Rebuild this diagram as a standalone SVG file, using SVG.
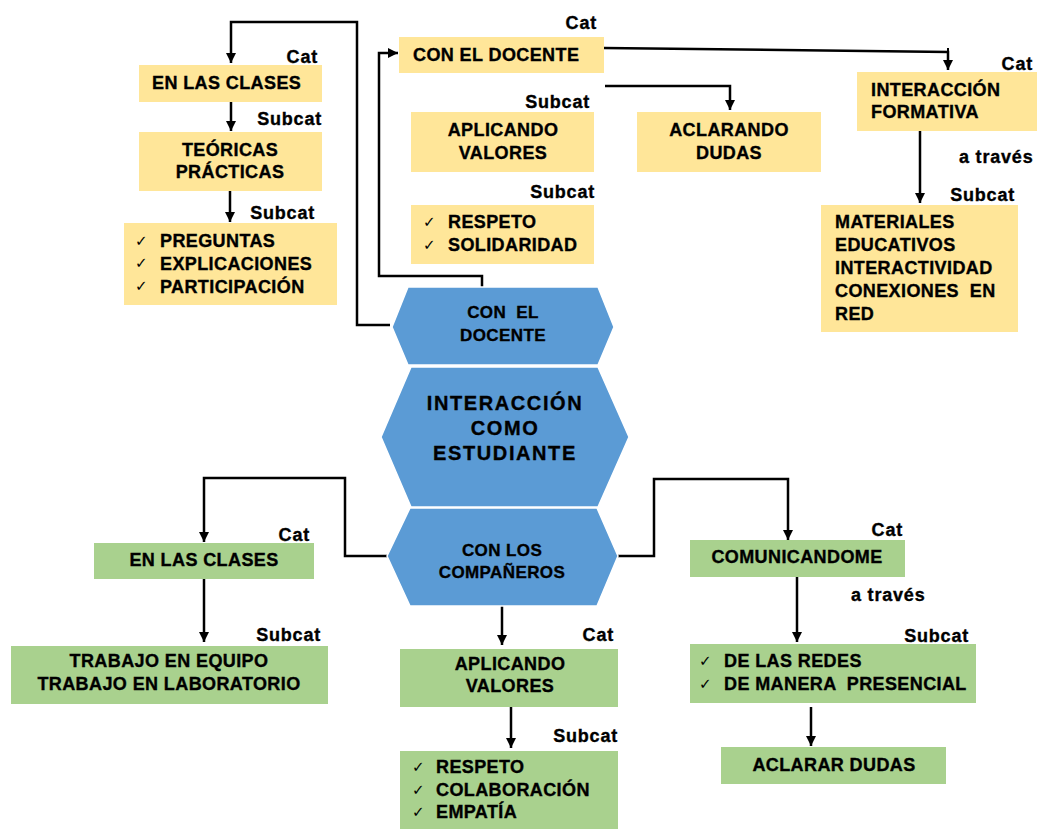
<svg xmlns="http://www.w3.org/2000/svg" width="1037" height="829" viewBox="0 0 1037 829">
<defs>
<marker id="ah" viewBox="0 0 10 10" refX="10" refY="5" markerWidth="10" markerHeight="10" markerUnits="userSpaceOnUse" orient="auto">
<path d="M0,0 L10,5 L0,10 Z" fill="#000"/>
</marker>
<style>
.y{fill:#FFE699}
.g{fill:#A9D18E}
.h{fill:#5B9BD5;stroke:#fff;stroke-width:1.5}
text{font-family:"Liberation Sans",Arial,sans-serif;font-weight:bold;fill:#000;stroke:#000;stroke-width:0.35;white-space:pre}
.t{font-size:18px;letter-spacing:0.4px}
.c{text-anchor:middle}
.r{text-anchor:end}
.l{font-size:18px;letter-spacing:0.8px}
.big{font-size:20px;letter-spacing:1.6px;text-anchor:middle}
.ck{font-family:"DejaVu Sans",sans-serif;font-weight:normal;font-size:15px;stroke-width:0}
.cn{fill:none;stroke:#000;stroke-width:2.5}
</style>
</defs>
<rect width="1037" height="829" fill="#fff"/>

<g id="connectors">
<polyline class="cn" points="390,325 357,325 357,22 231,22 231,63" marker-end="url(#ah)"/>
<polyline class="cn" points="231,102 231,131" marker-end="url(#ah)"/>
<polyline class="cn" points="230,191 230,222" marker-end="url(#ah)"/>
<polyline class="cn" points="482,287 482,276 379,276 379,53 398,53" marker-end="url(#ah)"/>
<polyline class="cn" points="604,48 948,52 948,70" marker-end="url(#ah)"/>
<line x1="948" y1="48" x2="948" y2="56" stroke="#000" stroke-width="2"/>
<polyline class="cn" points="605,86 730,86 730,110" marker-end="url(#ah)"/>
<polyline class="cn" points="920,131 920,203" marker-end="url(#ah)"/>
<polyline class="cn" points="387,556 345,556 345,478 204,478 204,542" marker-end="url(#ah)"/>
<polyline class="cn" points="204,579 204,642" marker-end="url(#ah)"/>
<polyline class="cn" points="502,606 502,645" marker-end="url(#ah)"/>
<polyline class="cn" points="511,707 511,748" marker-end="url(#ah)"/>
<polyline class="cn" points="617,556 654,556 654,479 788,479 788,540" marker-end="url(#ah)"/>
<polyline class="cn" points="797,577 797,642" marker-end="url(#ah)"/>
<polyline class="cn" points="811,707 811,746" marker-end="url(#ah)"/>
</g>

<g id="hex-docente">
<polygon class="h" points="408,287 598,287 614,327 598,365 408,365 392,327"/>
<text class="t c" x="503" y="318" style="font-size:17px">CON  EL</text>
<text class="t c" x="503" y="341" style="font-size:17px">DOCENTE</text>
</g>
<g id="hex-central">
<polygon class="h" points="411,367 598,367 629,437 598,507 411,507 381,437"/>
<text class="big" x="505" y="410">INTERACCIÓN</text>
<text class="big" x="505" y="435">COMO</text>
<text class="big" x="505" y="460">ESTUDIANTE</text>
</g>
<g id="hex-companeros">
<polygon class="h" points="410,508 597,508 618,556 597,606 410,606 387,556"/>
<text class="t c" x="502" y="556" style="font-size:17px">CON LOS</text>
<text class="t c" x="502" y="578" style="font-size:17px">COMPAÑEROS</text>
</g>

<g id="y-clases">
<rect class="y" x="139" y="65" width="183" height="37"/>
<text class="t" x="152" y="89">EN LAS CLASES</text>
<text class="l r" x="318" y="63">Cat</text>
</g>
<g id="y-teoricas">
<rect class="y" x="139" y="132" width="183" height="59"/>
<text class="t c" x="230" y="156">TEÓRICAS</text>
<text class="t c" x="230" y="178">PRÁCTICAS</text>
<text class="l r" x="322" y="125">Subcat</text>
</g>
<g id="y-preguntas">
<rect class="y" x="124" y="223" width="213" height="82"/>
<text class="ck" x="135" y="246">✓</text>
<text class="ck" x="135" y="268">✓</text>
<text class="ck" x="135" y="291">✓</text>
<text class="t" x="160" y="247">PREGUNTAS</text>
<text class="t" x="160" y="270">EXPLICACIONES</text>
<text class="t" x="160" y="293">PARTICIPACIÓN</text>
<text class="l r" x="315" y="219">Subcat</text>
</g>
<g id="y-docente">
<rect class="y" x="399" y="37" width="205" height="36"/>
<text class="t" x="413" y="61">CON EL DOCENTE</text>
<text class="l r" x="597" y="29">Cat</text>
</g>
<g id="y-aplicando">
<rect class="y" x="411" y="112" width="183" height="60"/>
<text class="t c" x="503" y="136">APLICANDO</text>
<text class="t c" x="503" y="159">VALORES</text>
<text class="l r" x="590" y="108">Subcat</text>
</g>
<g id="y-respeto">
<rect class="y" x="411" y="205" width="183" height="59"/>
<text class="ck" x="423" y="227">✓</text>
<text class="ck" x="423" y="250">✓</text>
<text class="t" x="448" y="228">RESPETO</text>
<text class="t" x="448" y="251">SOLIDARIDAD</text>
<text class="l r" x="595" y="198">Subcat</text>
</g>
<g id="y-aclarando">
<rect class="y" x="637" y="112" width="184" height="60"/>
<text class="t c" x="729" y="136">ACLARANDO</text>
<text class="t c" x="729" y="159">DUDAS</text>
</g>
<g id="y-formativa">
<rect class="y" x="857" y="72" width="180" height="59"/>
<text class="t" x="871" y="96">INTERACCIÓN</text>
<text class="t" x="871" y="118">FORMATIVA</text>
<text class="l r" x="1033" y="70">Cat</text>
<text class="l" x="959" y="163">a través</text>
<text class="l r" x="1015" y="201">Subcat</text>
</g>
<g id="y-materiales">
<rect class="y" x="821" y="205" width="197" height="127"/>
<text class="t" x="835" y="228">MATERIALES</text>
<text class="t" x="835" y="251">EDUCATIVOS</text>
<text class="t" x="835" y="274">INTERACTIVIDAD</text>
<text class="t" x="835" y="297">CONEXIONES  EN</text>
<text class="t" x="835" y="320">RED</text>
</g>

<g id="g-clases">
<rect class="g" x="94" y="543" width="220" height="36"/>
<text class="t c" x="204" y="566">EN LAS CLASES</text>
<text class="l r" x="310" y="541">Cat</text>
</g>
<g id="g-trabajo">
<rect class="g" x="11" y="646" width="317" height="58"/>
<text class="t c" x="169" y="667">TRABAJO EN EQUIPO</text>
<text class="t c" x="169" y="690">TRABAJO EN LABORATORIO</text>
<text class="l r" x="321" y="641">Subcat</text>
</g>
<g id="g-aplicando">
<rect class="g" x="400" y="649" width="218" height="58"/>
<text class="t c" x="510" y="670">APLICANDO</text>
<text class="t c" x="510" y="692">VALORES</text>
<text class="l r" x="614" y="641">Cat</text>
</g>
<g id="g-respeto">
<rect class="g" x="400" y="751" width="218" height="78"/>
<text class="ck" x="412" y="772">✓</text>
<text class="ck" x="412" y="795">✓</text>
<text class="ck" x="412" y="817">✓</text>
<text class="t" x="436" y="773">RESPETO</text>
<text class="t" x="436" y="796">COLABORACIÓN</text>
<text class="t" x="436" y="818">EMPATÍA</text>
<text class="l r" x="618" y="742">Subcat</text>
</g>
<g id="g-comunicandome">
<rect class="g" x="690" y="540" width="215" height="37"/>
<text class="t c" x="797" y="563">COMUNICANDOME</text>
<text class="l r" x="903" y="536">Cat</text>
<text class="l" x="851" y="601">a través</text>
</g>
<g id="g-redes">
<rect class="g" x="690" y="644" width="286" height="59"/>
<text class="ck" x="699" y="666">✓</text>
<text class="ck" x="699" y="689">✓</text>
<text class="t" x="724" y="667">DE LAS REDES</text>
<text class="t" x="724" y="690">DE MANERA  PRESENCIAL</text>
<text class="l r" x="969" y="642">Subcat</text>
</g>
<g id="g-aclarar">
<rect class="g" x="721" y="747" width="225" height="37"/>
<text class="t c" x="834" y="771">ACLARAR DUDAS</text>
</g>
</svg>
